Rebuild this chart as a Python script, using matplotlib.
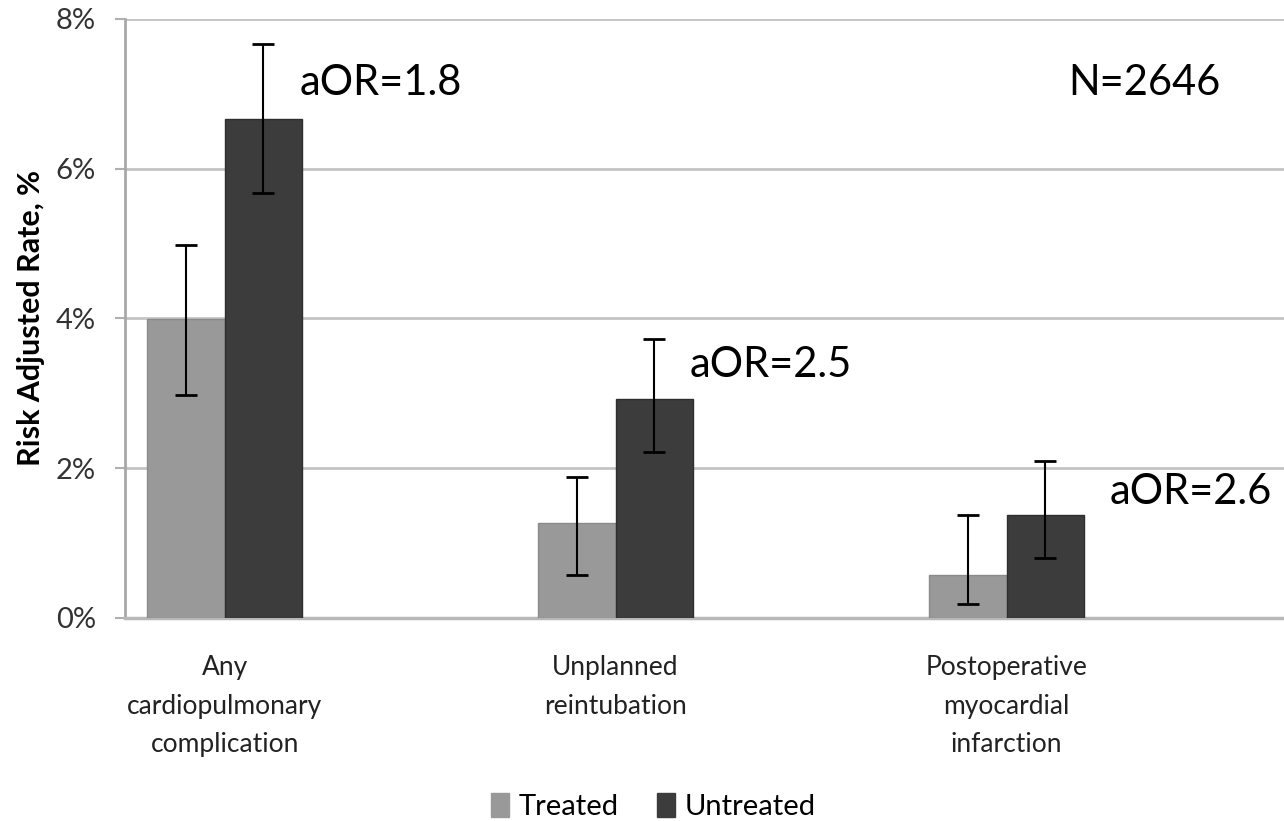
import numpy as np
import matplotlib.pyplot as plt
from matplotlib.patches import Patch

plt.rcParams['font.family'] = ['Lato', 'DejaVu Sans']

categories = ["Any\ncardiopulmonary\ncomplication",
              "Unplanned\nreintubation",
              "Postoperative\nmyocardial\ninfarction"]
treated = [3.99, 1.27, 0.58]
treated_lo = [2.98, 0.58, 0.19]
treated_hi = [4.98, 1.88, 1.38]
untreated = [6.66, 2.92, 1.38]
untreated_lo = [5.67, 2.22, 0.80]
untreated_hi = [7.67, 3.73, 2.09]
aor_labels = ["aOR=1.8", "aOR=2.5", "aOR=2.6"]
yticks = [0, 2, 4, 6, 8]

c_treat = '#999999'
c_untreat = '#3c3c3c'

fig = plt.figure(figsize=(12.84, 8.21), dpi=100)
ax = fig.add_axes([0.0974, 0.2473, 0.9026, 0.7296])

x = np.arange(len(categories))
w = 0.198

t = np.array(treated)
u = np.array(untreated)
t_err = [t - np.array(treated_lo), np.array(treated_hi) - t]
u_err = [u - np.array(untreated_lo), np.array(untreated_hi) - u]

ekw = dict(ecolor='black', elinewidth=1.5, capsize=8, capthick=2)
ax.bar(x - w/2, t, w, color=c_treat, edgecolor='#8a8a8a', linewidth=1,
       yerr=t_err, error_kw=ekw, zorder=3)
ax.bar(x + w/2, u, w, color=c_untreat, edgecolor='#2e2e2e', linewidth=1,
       yerr=u_err, error_kw=ekw, zorder=3)

# annotations
ax.text(0.193, 7.14, aor_labels[0], fontsize=30, va='center', ha='left')
ax.text(1.19, 3.38, aor_labels[1], fontsize=30, va='center', ha='left')
ax.text(2.264, 1.68, aor_labels[2], fontsize=30, va='center', ha='left')
ax.text(2.157, 7.15, "N=2646", fontsize=30, va='center', ha='left')

ax.set_xlim(-0.2545, 2.7097)
ax.set_ylim(0, 8)
ax.set_yticks(yticks)
ax.set_yticklabels([f"{v}%" for v in yticks], fontsize=21, color='#333333')
ax.yaxis.grid(True, color='#c4c4c4', linewidth=2, zorder=0)
ax.tick_params(axis='y', length=7, width=1.5, color='#b0b0b0', pad=14)

ax.set_xticks(x)
ax.set_xticklabels(categories, fontsize=19, linespacing=1.66,
                   color='#222222')
ax.tick_params(axis='x', length=0, pad=27)

for s in ['top', 'right']:
    ax.spines[s].set_visible(False)
ax.spines['left'].set_color('#a8a8a8')
ax.spines['left'].set_linewidth(2)
ax.spines['bottom'].set_color('#b8b8b8')
ax.spines['bottom'].set_linewidth(2.5)

ax.set_ylabel("Risk Adjusted Rate, %", fontsize=22, fontweight='bold',
              labelpad=8)

handles = [Patch(facecolor=c_treat, edgecolor=c_treat, label='Treated'),
           Patch(facecolor=c_untreat, edgecolor=c_untreat, label='Untreated')]
fig.legend(handles=handles, loc='lower center', bbox_to_anchor=(0.509, -0.031),
           ncol=2, frameon=False, fontsize=21, handlelength=0.6,
           handleheight=0.9, handletextpad=0.35, columnspacing=1.3)

fig.savefig('out.png', dpi=100)
